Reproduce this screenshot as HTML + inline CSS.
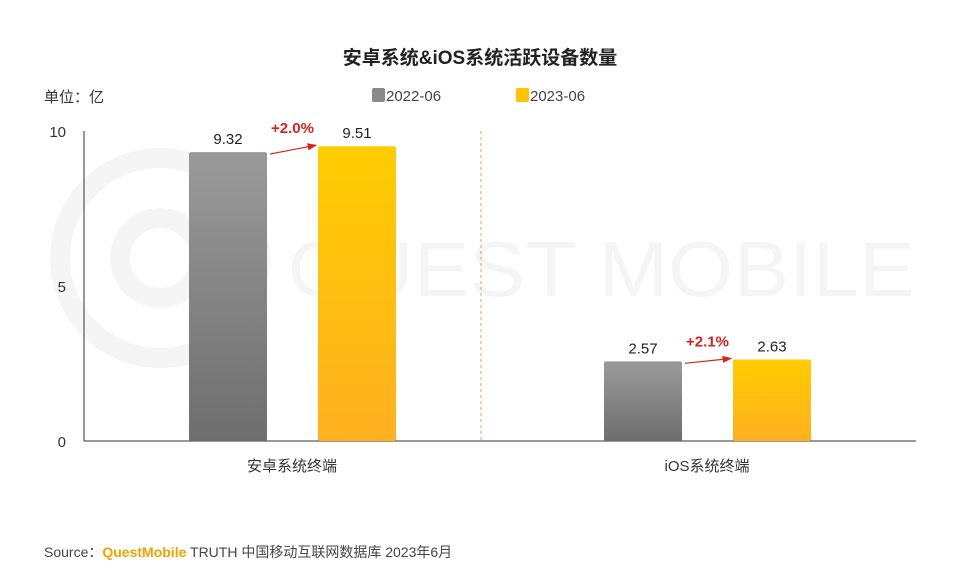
<!DOCTYPE html>
<html><head><meta charset="utf-8"><style>
body{margin:0;width:960px;height:576px;background:#fff;font-family:"Liberation Sans","Noto Sans CJK SC",sans-serif;overflow:hidden}
</style></head><body>
<svg width="960" height="576" font-family="Liberation Sans, Noto Sans CJK SC, sans-serif">
<defs>
<linearGradient id="g1" x1="0" y1="0" x2="0" y2="1"><stop offset="0" stop-color="#9a9a9a"/><stop offset="1" stop-color="#6e6e6e"/></linearGradient>
<linearGradient id="g2" x1="0" y1="0" x2="0" y2="1"><stop offset="0" stop-color="#ffcc00"/><stop offset="1" stop-color="#ffb020"/></linearGradient>
<marker id="ar" markerWidth="8" markerHeight="8" refX="7" refY="4" orient="auto"><path d="M0,1 L8,4 L0,7 Z" fill="#e02020"/></marker>
</defs>
<g opacity="0.035">
<circle cx="160" cy="258" r="100" fill="none" stroke="#000" stroke-width="20"/>
<circle cx="160" cy="258" r="40" fill="none" stroke="#000" stroke-width="20"/>
<text x="288" y="296" font-size="78" fill="#000" textLength="627" lengthAdjust="spacingAndGlyphs">QUEST MOBILE</text>
</g>
<text x="480" y="64" text-anchor="middle" font-size="19" font-weight="bold" fill="#222">安卓系统&amp;iOS系统活跃设备数量</text>
<text x="44" y="102" font-size="15" fill="#333">单位：亿</text>
<g>
<rect x="372" y="88" width="13" height="14" rx="2" fill="#8a8a8a"/>
<text x="386" y="101" font-size="15" fill="#444">2022-06</text>
<rect x="516" y="88" width="13" height="14" rx="2" fill="#ffc400"/>
<text x="530" y="101" font-size="15" fill="#444">2023-06</text>
</g>
<line x1="84" y1="131" x2="84" y2="441" stroke="#333"/>
<line x1="84" y1="441" x2="916" y2="441" stroke="#333"/>
<line x1="481" y1="131" x2="481" y2="441" stroke="#f0a040" stroke-dasharray="3,3"/>
<g id="ticks"></g><g id="bars"></g>
<text x="44" y="557" font-size="14" fill="#444">Source：<tspan fill="#f5a000" font-weight="bold">QuestMobile</tspan> TRUTH 中国移动互联网数据库 2023年6月</text>
</svg>
<script>
const categories=["安卓系统终端","iOS系统终端"];
const series2022=[9.32,2.57];
const series2023=[9.51,2.63];
const growth=["+2.0%","+2.1%"];
const yTicks=[0,5,10];
const NS="http://www.w3.org/2000/svg";
const y=v=>441-v*31;
const cx=i=>292+i*415;
function mk(t,a,p,txt){const e=document.createElementNS(NS,t);for(const k in a)e.setAttribute(k,a[k]);if(txt!==undefined)e.textContent=txt;p.appendChild(e);return e;}
const tg=document.getElementById('ticks'),bg=document.getElementById('bars');
yTicks.forEach(v=>{const t=mk('text',{x:66,y:y(v)+6,'text-anchor':'end','font-size':15,fill:'#333'},tg,String(v));

});
categories.forEach((c,i)=>{
const x0=cx(i)-103,x1=cx(i)+26;
const b1=mk('rect',{x:x0,y:y(series2022[i]),width:78,height:441-y(series2022[i]),rx:2,fill:'url(#g1)'},bg);


const b2=mk('rect',{x:x1,y:y(series2023[i]),width:78,height:441-y(series2023[i]),rx:2,fill:'url(#g2)'},bg);


const l1=mk('text',{x:x0+39,y:y(series2022[i])-8,'text-anchor':'middle','font-size':15,fill:'#222'},bg,series2022[i].toFixed(2));


const l2=mk('text',{x:x1+39,y:y(series2023[i])-8,'text-anchor':'middle','font-size':15,fill:'#222'},bg,series2023[i].toFixed(2));


const ar=mk('line',{x1:x0+81,y1:y(series2022[i])+2,x2:x1-2,y2:y(series2023[i])-1,stroke:'#e02020','stroke-width':1.2,'marker-end':'url(#ar)'},bg);


const gl=mk('text',{x:(x0+78+x1)/2,y:y(series2023[i])-13,'text-anchor':'middle','font-size':15,'font-weight':'bold',fill:'#e02020'},bg,growth[i]);


const cl=mk('text',{x:cx(i),y:471,'text-anchor':'middle','font-size':15,fill:'#333'},bg,c);


});
</script>
</body></html>
